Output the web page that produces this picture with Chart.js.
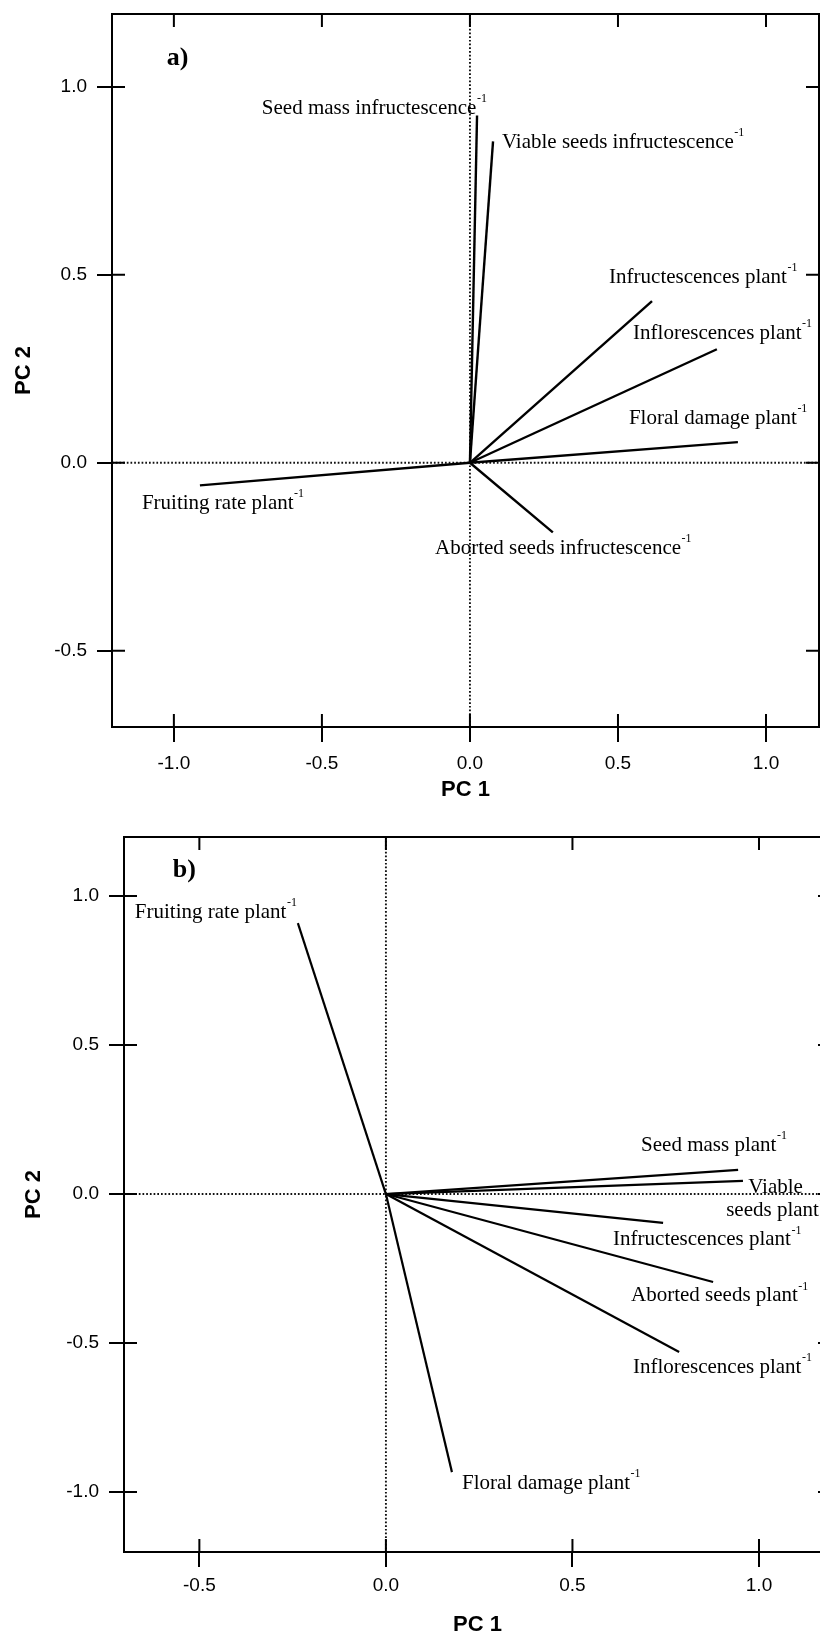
<!DOCTYPE html>
<html>
<head>
<meta charset="utf-8">
<title>PCA loadings</title>
<script src="https://cdn.jsdelivr.net/npm/chart.js@4.4.1/dist/chart.umd.min.js"></script>
<style>
  html, body { margin: 0; padding: 0; background: #fff; width: 820px; height: 1638px; overflow: hidden; }
  #wrapA { position: absolute; left: 0; top: 0; }
  #wrapB { position: absolute; left: 0; top: 800px; }
  canvas { display: block; }
</style>
</head>
<body>
<div id="wrapA"><canvas id="pcaA" width="820" height="810"></canvas></div>
<div id="wrapB"><canvas id="pcaB" width="840" height="838"></canvas></div>
<script>
// Panel a: loadings of infructescence- and plant-level variables on PC 1 / PC 2
const aVariables = ['Seed mass infructescence', 'Viable seeds infructescence', 'Infructescences plant',
                    'Inflorescences plant', 'Floral damage plant', 'Aborted seeds infructescence', 'Fruiting rate plant'];
const aPC1 = [0.024, 0.078, 0.615, 0.834, 0.905, 0.280, -0.912];
const aPC2 = [0.924, 0.855, 0.430, 0.302, 0.055, -0.185, -0.060];
const aTicksX = [-1.0, -0.5, 0.0, 0.5, 1.0];
const aTicksY = [-0.5, 0.0, 0.5, 1.0];

// Panel b: loadings of plant-level variables on PC 1 / PC 2
const bVariables = ['Fruiting rate plant', 'Floral damage plant', 'Seed mass plant', 'Viable seeds plant',
                    'Infructescences plant', 'Aborted seeds plant', 'Inflorescences plant'];
const bPC1 = [-0.236, 0.177, 0.944, 0.957, 0.743, 0.877, 0.786];
const bPC2 = [0.909, -0.933, 0.081, 0.044, -0.097, -0.295, -0.530];
const bTicksX = [-0.5, 0.0, 0.5, 1.0];
const bTicksY = [-1.0, -0.5, 0.0, 0.5, 1.0];

// Where each variable name sits (left edge, vertical middle), in axis units.
// A pair of points splits the name over two lines.
const aLabelAt = [[-0.703, 0.943], [0.108, 0.853], [0.470, 0.494], [0.551, 0.345],
                  [0.537, 0.119], [-0.118, -0.227], [-1.108, -0.107]];
const bLabelAt = [[-0.673, 0.946], [0.204, -0.970], [0.684, 0.164], [[0.971, 0.023], [0.912, -0.054]],
                  [0.609, -0.154], [0.657, -0.342], [0.662, -0.581]];

const SANS = '"Liberation Sans", Arial, Helvetica, sans-serif';
const SERIF = '"Liberation Serif", "Times New Roman", Times, serif';
const UNIT = '-1';

// Dotted zero lines, boxed frame with inward ticks, panel tag and variable names
const biplotDecor = {
  id: 'biplotDecor',
  beforeDatasetsDraw(chart) {
    const { ctx, chartArea: a, scales: { x, y } } = chart;
    const x0 = x.getPixelForValue(0), y0 = y.getPixelForValue(0);
    ctx.save();
    ctx.strokeStyle = '#111';
    ctx.lineWidth = 1.9;
    ctx.setLineDash([1.7, 2.0]);
    ctx.beginPath();
    ctx.moveTo(x0, a.top); ctx.lineTo(x0, a.bottom);
    ctx.moveTo(a.left, y0); ctx.lineTo(a.right, y0);
    ctx.stroke();
    ctx.restore();
  },
  afterDatasetsDraw(chart, args, opts) {
    const { ctx, chartArea: a, scales: { x, y } } = chart;
    const inward = 13;
    ctx.save();
    ctx.strokeStyle = '#000';
    ctx.lineWidth = 2;
    ctx.beginPath();
    // top and right sides of the box
    ctx.moveTo(a.left, a.top); ctx.lineTo(a.right, a.top); ctx.lineTo(a.right, a.bottom);
    x.ticks.forEach(t => {
      const px = x.getPixelForValue(t.value);
      ctx.moveTo(px, a.bottom); ctx.lineTo(px, a.bottom - inward);
      ctx.moveTo(px, a.top); ctx.lineTo(px, a.top + inward);
    });
    y.ticks.forEach(t => {
      const py = y.getPixelForValue(t.value);
      ctx.moveTo(a.left, py); ctx.lineTo(a.left + inward, py);
      ctx.moveTo(a.right, py); ctx.lineTo(a.right - inward, py);
    });
    ctx.stroke();

    ctx.fillStyle = '#000';
    ctx.textBaseline = 'middle';
    ctx.textAlign = 'left';

    // panel tag
    ctx.font = 'bold 26px ' + SERIF;
    ctx.fillText(opts.tag, x.getPixelForValue(opts.tagAt[0]), y.getPixelForValue(opts.tagAt[1]));

    // variable names with the per-unit superscript
    const put = (text, at, withUnit) => {
      const px = x.getPixelForValue(at[0]), py = y.getPixelForValue(at[1]);
      ctx.font = '21px ' + SERIF;
      ctx.fillText(text, px, py);
      if (withUnit) {
        const w = ctx.measureText(text).width;
        ctx.font = '12px ' + SERIF;
        ctx.fillText(UNIT, px + w + 0.5, py - 9);
      }
    };
    opts.names.forEach((name, i) => {
      const at = opts.labelAt[i];
      if (Array.isArray(at[0])) {
        const cut = name.indexOf(' ');
        put(name.slice(0, cut), at[0], false);
        put(name.slice(cut + 1), at[1], true);
      } else {
        put(name, at, true);
      }
    });
    ctx.restore();
  }
};

function axisCfg(axis, range, ticks, boxSize, title, titlePad, tickPad) {
  return {
    type: 'linear',
    position: axis === 'x' ? 'bottom' : 'left',
    min: range[0],
    max: range[1],
    afterBuildTicks: s => { s.ticks = ticks.map(v => ({ value: v })); },
    afterFit: s => {
      if (axis === 'x') { s.height = boxSize; } else { s.width = boxSize; }
      // the plot box is placed by the layout padding alone
      s.paddingTop = 0; s.paddingBottom = 0; s.paddingLeft = 0; s.paddingRight = 0;
    },
    grid: { display: true, drawOnChartArea: false, drawTicks: true, tickLength: 15, color: '#000', lineWidth: 2 },
    border: { display: true, color: '#000', width: 2 },
    ticks: {
      color: '#000',
      padding: tickPad,
      autoSkip: false,
      maxRotation: 0,
      font: { family: SANS, size: 19 },
      callback: v => Number(v).toFixed(1)
    },
    title: {
      display: true,
      text: title,
      color: '#000',
      padding: titlePad,
      font: { family: SANS, size: 22, weight: 'bold' }
    }
  };
}

function vectors(names, pc1, pc2, width) {
  return names.map((name, i) => ({
    label: name,
    data: [{ x: 0, y: 0 }, { x: pc1[i], y: pc2[i] }],
    showLine: true,
    borderColor: '#000',
    borderWidth: width,
    pointRadius: 0,
    fill: false
  }));
}

function biplot(canvasId, cfg) {
  return new Chart(document.getElementById(canvasId), {
    type: 'scatter',
    data: { datasets: vectors(cfg.names, cfg.pc1, cfg.pc2, cfg.lineWidth) },
    options: {
      responsive: false,
      animation: false,
      devicePixelRatio: 1,
      layout: { padding: cfg.padding },
      scales: {
        x: axisCfg('x', cfg.xRange, cfg.xTicks, cfg.xBox, 'PC 1', { top: 0, bottom: 0 }, cfg.xTickPad),
        y: axisCfg('y', cfg.yRange, cfg.yTicks, cfg.yBox, 'PC 2', { top: cfg.yTitlePad, bottom: 0 }, 10)
      },
      plugins: {
        legend: { display: false },
        tooltip: { enabled: false },
        biplotDecor: { tag: cfg.tag, tagAt: cfg.tagAt, names: cfg.names, labelAt: cfg.labelAt }
      }
    },
    plugins: [biplotDecor]
  });
}

biplot('pcaA', {
  names: aVariables, pc1: aPC1, pc2: aPC2, labelAt: aLabelAt,
  tag: 'a)', tagAt: [-1.024, 1.076],
  xRange: [-1.209, 1.179], yRange: [-0.703, 1.194],
  xTicks: aTicksX, yTicks: aTicksY,
  padding: { left: 0, right: 1, top: 14, bottom: 7 },
  xBox: 76, yBox: 112, xTickPad: 10, yTitlePad: 11, lineWidth: 2.4
});

biplot('pcaB', {
  names: bVariables, pc1: bPC1, pc2: bPC2, labelAt: bLabelAt,
  tag: 'b)', tagAt: [-0.571, 1.087],
  xRange: [-0.702, 1.193], yRange: [-1.201, 1.198],
  xTicks: bTicksX, yTicks: bTicksY,
  padding: { left: 0, right: 9, top: 37, bottom: 0 },
  xBox: 86, yBox: 124, xTickPad: 7, yTitlePad: 21, lineWidth: 2.2
});
</script>
</body>
</html>
